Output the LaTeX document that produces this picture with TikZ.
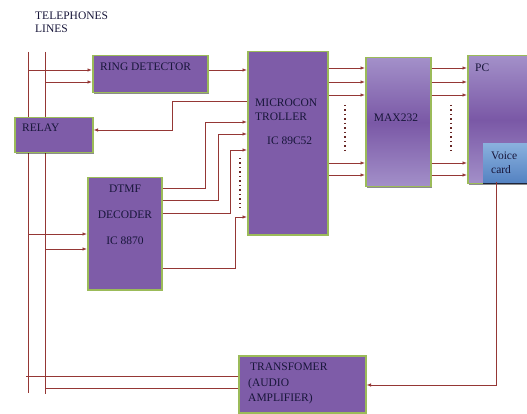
\documentclass[tikz,border=0pt]{standalone}
\usepackage{fontspec}
\setmainfont{Liberation Serif}
\usetikzlibrary{arrows.meta,calc,shadows}
\definecolor{bpurple}{HTML}{7E5CA8}
\definecolor{bpurplelt}{HTML}{A390C9}
\definecolor{bpurpledk}{HTML}{7A58A6}
\definecolor{bgreen}{HTML}{9BBB59}
\definecolor{wirecol}{HTML}{953735}
\definecolor{ink}{HTML}{18163A}
\definecolor{vtop}{HTML}{8AB1DE}
\definecolor{vbot}{HTML}{5583C2}
\begin{document}
\begin{tikzpicture}[x=1pt,y=-1pt,
  blk/.style={draw=bgreen, line width=1.5pt, fill=bpurple, inner sep=0pt, anchor=north west,
    drop shadow={shadow xshift=1.2pt, shadow yshift=-1.5pt, fill=black, opacity=0.45}},
  gradblk/.style={blk, top color=bpurplelt, bottom color=bpurplelt, middle color=bpurpledk},
  lbl/.style={inner sep=0pt, text=ink, font=\fontsize{11.5}{14}\selectfont},
  wire/.style={draw=wirecol, line width=0.8pt},
  arr/.style={wire, -{Latex[length=4.5pt,width=3.5pt]}},
  dotcol/.style={draw=wirecol!70!black, line width=1.3pt, dash pattern=on 1.3pt off 3.2pt}]
\clip (0,0) rectangle (527,414);
\fill[white] (0,0) rectangle (527,414);

% telephone lines
\coordinate (l1t) at (28,52);
\coordinate (l1b) at (28,393);
\coordinate (l2t) at (45,52);
\coordinate (l2b) at (45,394);
\draw[wire] (l1t) -- (l1b);
\draw[wire] (l2t) -- (l2b);
\node[lbl, anchor=north west, align=left, font=\fontsize{11.5}{13}\selectfont] (tel) at (35,12) {TELEPHONES\\LINES};

% blocks
\node[blk, minimum width=115, minimum height=37] (ring) at (92,55) {};
\node[blk, minimum width=80, minimum height=183] (mc) at (247,51) {};
\node[gradblk, minimum width=65, minimum height=129] (max) at (365,57) {};
\node[gradblk, minimum width=85, minimum height=128] (pc) at (467,55) {};
\node[inner sep=0pt, anchor=north west, minimum width=60, minimum height=39, top color=vtop, bottom color=vbot,
  drop shadow={shadow xshift=0pt, shadow yshift=-1.5pt, fill=black!80!blue, opacity=0.8}] (voice) at (483,143) {};
\node[blk, minimum width=78, minimum height=35] (relay) at (14,117) {};
\node[blk, minimum width=74, minimum height=112] (dtmf) at (87,177) {};
\node[blk, minimum width=127, minimum height=57] (trans) at (238,355) {};

% labels
\node[lbl, anchor=north west] (ringl) at (100,63) {RING DETECTOR};
\node[lbl, anchor=north west, align=left] (mcl) at (255,99) {MICROCON\\TROLLER};
\node[lbl, anchor=north west] (mcl2) at (267,137) {IC 89C52};
\node[lbl, anchor=north] (maxl) at (396,114) {MAX232};
\node[lbl, anchor=north west] (pcl) at (475,64) {PC};
\node[lbl, anchor=north west, align=left] (voicel) at (491,152) {Voice\\card};
\node[lbl, anchor=north west] (relayl) at (22,124) {RELAY};
\node[lbl, anchor=north, align=center, font=\fontsize{11.5}{26}\selectfont] (dtmfl) at (125,185) {DTMF\\DECODER\\IC 8870};
\node[lbl, anchor=north west, align=left, font=\fontsize{11.5}{15.5}\selectfont] (transl) at (248,363) {\,TRANSFOMER\\(AUDIO\\AMPLIFIER)};

% connectors
\draw[arr] (l1t |- 0,70) -- (ring.west |- 0,70);
\draw[arr] (l2t |- 0,82) -- (ring.west |- 0,82);
\draw[arr] (ring.east |- 0,70) -- (mc.west |- 0,70);
\draw[arr] (mc.west |- 0,101) -| (172,130) -- (relay.east |- 0,130);
\draw[arr] (dtmf.east |- 0,188) -| (205,122) -- (mc.west |- 0,122);
\draw[arr] (dtmf.east |- 0,200) -| (218,134) -- (mc.west |- 0,134);
\draw[arr] (dtmf.east |- 0,213) -| (230,150) -- (mc.west |- 0,150);
\draw[arr] (dtmf.east |- 0,268) -| (235,217) -- (mc.west |- 0,217);
\draw[arr] (l1t |- 0,234) -- (dtmf.west |- 0,234);
\draw[arr] (l2t |- 0,249) -- (dtmf.west |- 0,249);
\foreach \y in {68,82,95,163,175} {
  \draw[arr] (mc.east |- 0,\y) -- (max.west |- 0,\y);
  \draw[arr] (max.east |- 0,\y) -- (pc.west |- 0,\y);
}
\draw[dotcol] (345,105) -- (345,151);
\draw[dotcol] (451,105) -- (451,151);
\draw[dotcol] (240,158) -- (240,208);
\draw[arr] (voice.south -| 496,0) |- (trans.east |- 0,385);
\draw[wire] (trans.west |- 0,376) -- (26,376);
\draw[wire] (trans.west |- 0,388) -- (l2b |- 0,388);
\end{tikzpicture}
\end{document}
